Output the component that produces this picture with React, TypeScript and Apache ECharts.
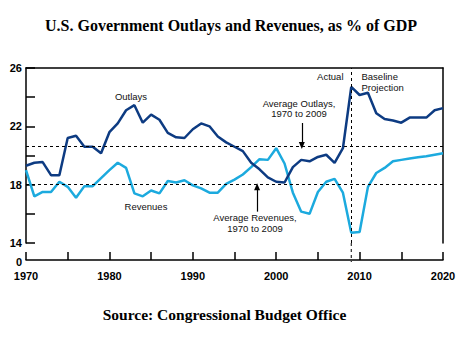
import React, { useEffect, useRef } from "react";
import * as echarts from "echarts";

const years = [
  1970, 1971, 1972, 1973, 1974, 1975, 1976, 1977, 1978, 1979,
  1980, 1981, 1982, 1983, 1984, 1985, 1986, 1987, 1988, 1989,
  1990, 1991, 1992, 1993, 1994, 1995, 1996, 1997, 1998, 1999,
  2000, 2001, 2002, 2003, 2004, 2005, 2006, 2007, 2008, 2009,
  2010, 2011, 2012, 2013, 2014, 2015, 2016, 2017, 2018, 2019, 2020,
];

const outlays = [
  19.3, 19.5, 19.55, 18.65, 18.65, 21.2, 21.35, 20.6, 20.6, 20.15,
  21.6, 22.2, 23.1, 23.45, 22.25, 22.8, 22.45, 21.55, 21.25, 21.2,
  21.8, 22.2, 22.0, 21.3, 20.9, 20.6, 20.3, 19.5, 19.05, 18.5,
  18.2, 18.15, 19.2, 19.7, 19.6, 19.9, 20.05, 19.5, 20.5, 24.7,
  24.15, 24.3, 22.9, 22.5, 22.4, 22.25, 22.6, 22.6, 22.6, 23.1, 23.25,
];

const revenues = [
  19.0, 17.2, 17.5, 17.5, 18.2, 17.85, 17.1, 17.9, 17.9, 18.45,
  19.0, 19.5, 19.15, 17.4, 17.2, 17.6, 17.4, 18.25, 18.15, 18.3,
  17.95, 17.75, 17.45, 17.45, 18.05, 18.35, 18.7, 19.2, 19.75, 19.7,
  20.5, 19.45, 17.45, 16.15, 16.0, 17.5, 18.2, 18.4, 17.45, 14.7,
  14.75, 17.85, 18.8, 19.15, 19.6, 19.7, 19.8, 19.88, 19.95, 20.05, 20.15,
];

const avgOutlays = 20.6;
const avgRevenues = 18.0;
const actualEndYear = 2009;
const outlaysArrow = { year: 2003.07, from: 22.23, to: 20.68 };
const revenuesArrow = { year: 1997.71, from: 16.15, to: 17.85 };

const xMin = 1970;
const xMax = 2020;
const yMin = 14;
const yMax = 26;

const OUT_COLOR = "#0D3B82";
const REV_COLOR = "#1CAADE";
const SANS = "'Liberation Sans', Arial, sans-serif";
const SERIF = "'Liberation Serif', 'Times New Roman', serif";

export default function App() {
  const ref = useRef<HTMLDivElement>(null);

  useEffect(() => {
    document.body.style.margin = "0";
    if (!ref.current) return;
    const chart = echarts.init(ref.current, null, { renderer: "svg" });

    const dashStyle = { color: "#000", width: 1, type: [3, 3] as any };
    const txt = (x: number, y: number, text: string, align: string = "center", extra: any = {}) => ({
      type: "text",
      x,
      y,
      silent: true,
      style: {
        text,
        fill: "#111",
        font: `9.5px ${SANS}`,
        align,
        verticalAlign: "middle",
        ...extra,
      },
    });

    const option: any = {
      animation: false,
      grid: { left: 26, top: 68, width: 417, height: 175, containLabel: false },
      xAxis: [
        {
          type: "value",
          min: xMin,
          max: xMax,
          interval: 5,
          position: "bottom",
          offset: 17,
          axisLine: { show: true, lineStyle: { color: "#000", width: 1.5 } },
          axisTick: { show: true, inside: true, length: 8, lineStyle: { color: "#000", width: 1.5 } },
          axisLabel: {
            formatter: (v: number) => (v % 10 === 0 ? String(v) : ""),
            color: "#000",
            fontFamily: SANS,
            fontWeight: "bold",
            fontSize: 11,
            margin: 10,
          },
          splitLine: { show: false },
        },
        {
          type: "value",
          min: xMin,
          max: xMax,
          position: "top",
          axisLine: { show: true, onZero: false, lineStyle: { color: "#000", width: 1.5 } },
          axisTick: { show: false },
          axisLabel: { show: false },
          splitLine: { show: false },
        },
      ],
      yAxis: [
        {
          type: "value",
          min: yMin,
          max: yMax,
          interval: 2,
          position: "left",
          axisLine: { show: true, onZero: false, lineStyle: { color: "#000", width: 1.5 } },
          axisTick: { show: true, inside: true, length: 9, lineStyle: { color: "#000", width: 1.5 } },
          axisLabel: {
            formatter: (v: number) => (v % 4 === 2 ? String(v) : ""),
            color: "#000",
            fontFamily: SANS,
            fontWeight: "bold",
            fontSize: 11,
            margin: 4,
          },
          splitLine: { show: false },
        },
        {
          type: "value",
          min: yMin,
          max: yMax,
          position: "right",
          axisLine: { show: true, onZero: false, lineStyle: { color: "#000", width: 1.5 } },
          axisTick: { show: false },
          axisLabel: { show: false },
          splitLine: { show: false },
        },
      ],
      series: [
        {
          name: "Revenues",
          type: "line",
          data: years.map((y, i) => [y, revenues[i]]),
          showSymbol: false,
          symbol: "none",
          lineStyle: { color: REV_COLOR, width: 2.5 },
          z: 3,
          markLine: {
            silent: true,
            symbol: ["none", "none"],
            label: { show: false },
            lineStyle: dashStyle,
            data: [
              { yAxis: avgRevenues },
              [
                { coord: [revenuesArrow.year, revenuesArrow.from], symbol: "none", lineStyle: { type: "solid", width: 1.2, color: "#000" } },
                { coord: [revenuesArrow.year, revenuesArrow.to], symbol: "triangle", symbolSize: [6, 7] },
              ],
            ],
          },
        },
        {
          name: "Outlays",
          type: "line",
          data: years.map((y, i) => [y, outlays[i]]),
          showSymbol: false,
          symbol: "none",
          lineStyle: { color: OUT_COLOR, width: 2.5 },
          z: 4,
          markLine: {
            silent: true,
            symbol: ["none", "none"],
            label: { show: false },
            lineStyle: dashStyle,
            data: [
              { yAxis: avgOutlays },
              { xAxis: actualEndYear },
              [
                { coord: [outlaysArrow.year, outlaysArrow.from], symbol: "none", lineStyle: { type: "solid", width: 1.2, color: "#000" } },
                { coord: [outlaysArrow.year, outlaysArrow.to], symbol: "triangle", symbolSize: [6, 7] },
              ],
            ],
          },
        },
      ],
    };
    chart.setOption(option);

    const xv = chart.convertToPixel({ xAxisIndex: 0 }, actualEndYear) as number;
    const yBottom = chart.convertToPixel({ yAxisIndex: 0 }, yMin) as number;

    chart.setOption({
      graphic: [
        {
          type: "line",
          silent: true,
          shape: { x1: xv, y1: yBottom, x2: xv, y2: yBottom + 19 },
          style: { stroke: "#000", lineWidth: 1, lineDash: [3, 3] },
        },
        txt(231, 25, "U.S. Government Outlays and Revenues, as % of GDP", "center", {
          font: `bold 16px ${SERIF}`,
          fill: "#000",
        }),
        txt(224.5, 314, "Source: Congressional Budget Office", "center", {
          font: `bold 15.5px ${SERIF}`,
          fill: "#000",
        }),
        txt(22, 261.5, "0", "right", { font: `bold 11px ${SANS}`, fill: "#000" }),
        txt(131, 96, "Outlays"),
        txt(146, 206, "Revenues"),
        txt(299, 103.5, "Average Outlays,"),
        txt(299, 113.5, "1970 to 2009"),
        txt(255, 217.5, "Average Revenues,"),
        txt(255, 228, "1970 to 2009"),
        txt(343.5, 76, "Actual", "right"),
        txt(361.5, 76, "Baseline", "left"),
        txt(361.5, 87, "Projection", "left"),
      ],
    });

    return () => chart.dispose();
  }, []);

  return <div ref={ref} style={{ width: 460, height: 344 }} />;
}
